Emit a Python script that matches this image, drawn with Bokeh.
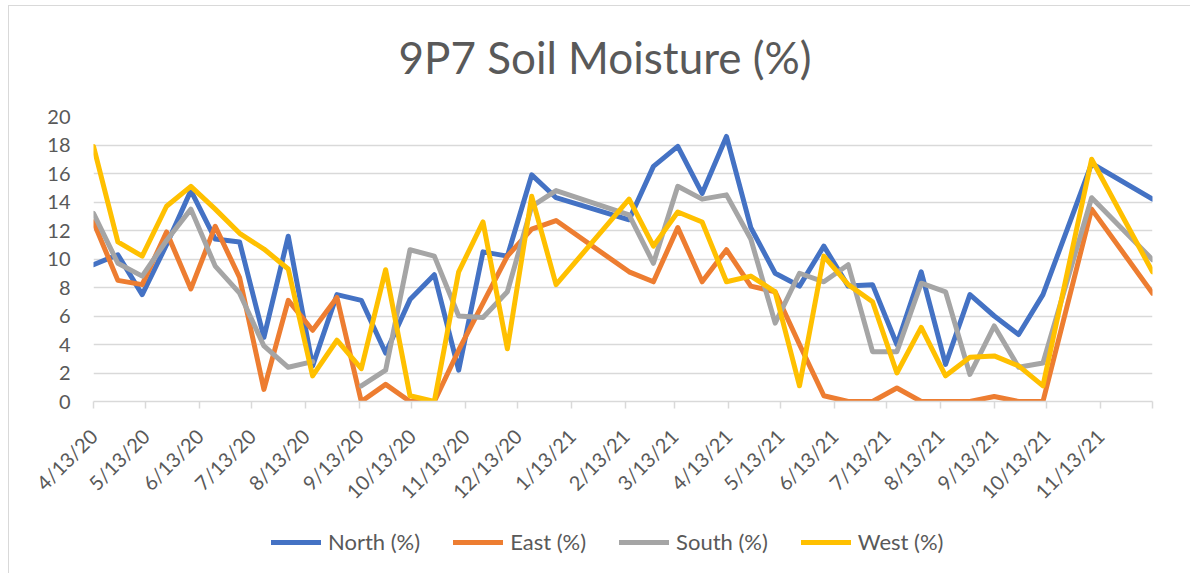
import math
import numpy as np
import pandas as pd
from bokeh.plotting import figure
from bokeh.layouts import column
from bokeh.models import FixedTicker, Legend, LegendItem, ColumnDataSource, Label
from bokeh.embed import file_html
from bokeh.resources import INLINE

# ---------------- data ----------------
dates = [
    "2020-04-13", "2020-04-27", "2020-05-11", "2020-05-25", "2020-06-08", "2020-06-22",
    "2020-07-06", "2020-07-20", "2020-08-03", "2020-08-17", "2020-08-31", "2020-09-14",
    "2020-09-28", "2020-10-12", "2020-10-26", "2020-11-09", "2020-11-23", "2020-12-07",
    "2020-12-21", "2021-01-04", "2021-02-15", "2021-03-01", "2021-03-15", "2021-03-29",
    "2021-04-12", "2021-04-26", "2021-05-10", "2021-05-24", "2021-06-07", "2021-06-21",
    "2021-07-05", "2021-07-19", "2021-08-02", "2021-08-16", "2021-08-30", "2021-09-13",
    "2021-09-27", "2021-10-11", "2021-11-08", "2021-12-13",
]
north = [9.6, 10.3, 7.5, 11.0, 14.8, 11.4, 11.2, 4.5, 11.6, 2.5, 7.5, 7.1,
         3.4, 7.15, 8.9, 2.2, 10.5, 10.2, 15.9, 14.3, 12.75, 16.5, 17.9, 14.6,
         18.6, 12.2, 9.0, 8.1, 10.9, 8.1, 8.2, 4.0, 9.1, 2.6, 7.5, 6.0,
         4.7, 7.5, 16.7, 14.2]
east = [12.6, 8.5, 8.2, 11.9, 7.9, 12.3, 8.7, 0.85, 7.1, 5.0, 7.3, 0.0,
        1.2, 0.0, 0.0, 3.6, 6.9, 10.2, 12.1, 12.7, 9.1, 8.4, 12.2, 8.4,
        10.65, 8.1, 7.7, 4.0, 0.4, 0.0, 0.0, 0.95, 0.0, 0.0, 0.0, 0.35,
        0.0, 0.0, 13.5, 7.6]
south = [13.2, 9.7, 8.8, 11.3, 13.5, 9.5, 7.6, 3.9, 2.4, 2.8, float("nan"), 1.1,
         2.2, 10.65, 10.2, 6.0, 5.9, 7.7, 13.7, 14.8, 13.1, 9.7, 15.1, 14.2,
         14.5, 11.4, 5.5, 9.0, 8.4, 9.6, 3.5, 3.5, 8.3, 7.7, 1.9, 5.3,
         2.4, 2.7, 14.3, 9.95]
west = [17.9, 11.2, 10.2, 13.7, 15.1, 13.5, 11.8, 10.7, 9.3, 1.8, 4.3, 2.3,
        9.25, 0.4, 0.0, 9.1, 12.6, 3.7, 14.4, 8.2, 14.2, 10.9, 13.3, 12.6,
        8.4, 8.8, 7.7, 1.1, 10.2, 8.2, 7.0, 2.0, 5.2, 1.8, 3.1, 3.2,
        2.5, 1.1, 17.0, 9.1]

series_names = ["North (%)", "East (%)", "South (%)", "West (%)"]
series_colors = ["#4472C4", "#ED7D31", "#A5A5A5", "#FFC000"]
title_text = "9P7 Soil Moisture (%)"

tick_dates = [
    "2020-04-13", "2020-05-13", "2020-06-13", "2020-07-13", "2020-08-13", "2020-09-13",
    "2020-10-13", "2020-11-13", "2020-12-13", "2021-01-13", "2021-02-13", "2021-03-13",
    "2021-04-13", "2021-05-13", "2021-06-13", "2021-07-13", "2021-08-13", "2021-09-13",
    "2021-10-13", "2021-11-13", "2021-12-13",
]
tick_labels = [
    "4/13/20", "5/13/20", "6/13/20", "7/13/20", "8/13/20", "9/13/20",
    "10/13/20", "11/13/20", "12/13/20", "1/13/21", "2/13/21", "3/13/21",
    "4/13/21", "5/13/21", "6/13/21", "7/13/21", "8/13/21", "9/13/21",
    "10/13/21", "11/13/21", "",
]
y_ticks = [0, 2, 4, 6, 8, 10, 12, 14, 16, 18, 20]

# ---------------- build ----------------
start = pd.Timestamp(dates[0])
day = [(pd.Timestamp(d) - start).days for d in dates]
tick_day = [(pd.Timestamp(d) - start).days for d in tick_dates]
all_series = [north, east, south, west]

FONT = "Lato"
TXT = "#595959"
GRID = "#D9D9D9"
W = 1182

def strip(height):
    f = figure(width=W, height=height, output_backend="svg", toolbar_location=None,
               x_range=(-2, -1), y_range=(-2, -1),
               x_axis_location=None, y_axis_location=None,
               min_border_left=0, min_border_right=0, min_border_top=0, min_border_bottom=0)
    f.outline_line_color = None
    f.xgrid.grid_line_color = None
    f.ygrid.grid_line_color = None
    return f

# ---------------- title strip ----------------
t = strip(97)
t.margin = (5, 0, 0, 8)
t.styles = {"border-left": "1px solid #d9d9d9", "border-top": "1px solid #d9d9d9"}
t.add_layout(Label(x=305, y=47, x_units="screen", y_units="screen", text=title_text,
                   text_font=FONT, text_font_size="44px", text_color=TXT,
                   text_baseline="alphabetic", text_align="left"))

# ---------------- main chart ----------------
p = figure(width=W, height=423, output_backend="svg", toolbar_location=None,
           x_range=(tick_day[0], tick_day[-1]), y_range=(0, 20),
           min_border_left=84, min_border_right=39, min_border_top=14,
           min_border_bottom=124)
p.margin = (0, 0, 0, 8)
p.styles = {"border-left": "1px solid #d9d9d9"}
p.outline_line_color = None
p.background_fill_color = "white"
p.border_fill_color = "white"

p.xaxis.ticker = FixedTicker(ticks=tick_day)
p.xaxis.major_label_overrides = {tv: tl for tv, tl in zip(tick_day, tick_labels)}
p.xaxis.major_label_orientation = math.pi / 4
p.xaxis.major_label_text_font = FONT
p.xaxis.major_label_text_font_size = "20px"
p.xaxis.major_label_text_color = TXT
p.xaxis.axis_line_color = GRID
p.xaxis.axis_line_width = 1.5
p.xaxis.major_tick_line_color = GRID
p.xaxis.major_tick_line_width = 1.5
p.xaxis.major_tick_out = 7
p.xaxis.major_tick_in = 0
p.xaxis.minor_tick_line_color = None
p.xaxis.major_label_standoff = 24

p.yaxis.ticker = FixedTicker(ticks=y_ticks)
p.yaxis.major_label_text_font = FONT
p.yaxis.major_label_text_font_size = "20px"
p.yaxis.major_label_text_color = TXT
p.yaxis.axis_line_color = None
p.yaxis.major_tick_line_color = None
p.yaxis.minor_tick_line_color = None
p.yaxis.major_tick_out = 0
p.yaxis.major_tick_in = 0
p.yaxis.major_label_standoff = 23

p.xgrid.grid_line_color = None
p.ygrid.grid_line_color = GRID
p.ygrid.grid_line_width = 1.5

for vals, col in zip(all_series, series_colors):
    src = ColumnDataSource(dict(x=day, y=vals))
    p.line("x", "y", source=src, line_color=col, line_width=5,
           line_join="round", line_cap="round")

# ---------------- legend strip ----------------
q = strip(48)
q.margin = (0, 0, 0, 8)
q.styles = {"border-left": "1px solid #d9d9d9"}

items = []
for name, vals, col in zip(series_names, all_series, series_colors):
    # same series, drawn outside this strip's visible ranges: only the legend keys show
    src = ColumnDataSource(dict(x=day, y=vals))
    r = q.line("x", "y", source=src, line_color=col, line_width=5, line_cap="round")
    items.append(LegendItem(label=name, renderers=[r]))

legend = Legend(items=items, orientation="horizontal", location=(178, 18))
legend.border_line_color = None
legend.background_fill_color = None
legend.background_fill_alpha = 0
legend.label_text_font = FONT
legend.label_text_font_size = "22px"
legend.label_text_color = TXT
legend.glyph_width = 50
legend.glyph_height = 26
legend.label_height = 26
legend.label_standoff = 7
legend.spacing = 33
legend.padding = 0
legend.margin = 0
q.add_layout(legend, "center")

layout = column(t, p, q, spacing=0)
open("out.html", "w").write(file_html(layout, INLINE))
